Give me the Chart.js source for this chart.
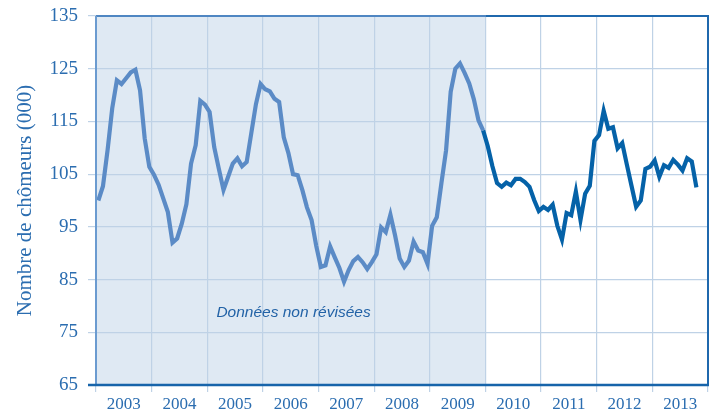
<!DOCTYPE html>
<html>
<head>
<meta charset="utf-8">
<script src="https://cdn.jsdelivr.net/npm/chart.js@4.4.1/dist/chart.umd.min.js"></script>
<style>
html,body{margin:0;padding:0;background:#ffffff;}
canvas{display:block;}
</style>
</head>
<body>
<canvas id="c" width="712" height="409"></canvas>
<script>
// ---- data (monthly, thousands of unemployed) ----
const startYear = 2003;
const endYear = 2014;
const revisedFromYear = 2010;
const xTickLabels = ['2003','2004','2005','2006','2007','2008','2009','2010','2011','2012','2013'];
const yTickValues = [65, 75, 85, 95, 105, 115, 125, 135];
const yTitle = 'Nombre de chômeurs (000)';
const noteText = 'Données non révisées';

const v2003 = [100.0, 102.7, 109.6, 117.5, 122.8, 122.1, 123.2, 124.3, 124.8, 120.9, 111.8, 106.4];
const v2004 = [104.9, 103.0, 100.4, 97.8, 92.0, 92.8, 95.6, 99.3, 107.0, 110.5, 118.9, 118.2];
const v2005 = [116.8, 110.1, 106.0, 102.0, 104.5, 107.0, 108.0, 106.5, 107.3, 112.8, 118.3, 122.1];
const v2006 = [121.1, 120.7, 119.3, 118.7, 112.0, 109.0, 105.0, 104.8, 102.0, 98.7, 96.3, 91.4];
const v2007 = [87.4, 87.7, 91.3, 89.2, 87.2, 84.6, 86.8, 88.5, 89.3, 88.3, 87.0, 88.3];
const v2008 = [89.8, 94.9, 94.0, 97.3, 93.4, 89.0, 87.4, 88.6, 92.2, 90.5, 90.2, 88.0];
const v2009 = [95.2, 96.8, 103.3, 109.5, 120.6, 125.0, 126.0, 124.2, 122.2, 119.2, 115.2, 113.3];
const v2010 = [110.3, 106.5, 103.3, 102.6, 103.4, 102.9, 104.1, 104.1, 103.5, 102.6, 100.1, 98.0];
const v2011 = [98.8, 98.2, 99.2, 95.2, 92.6, 97.6, 97.2, 101.7, 96.3, 101.3, 102.8, 111.3];
const v2012 = [112.4, 117.0, 113.6, 113.9, 109.9, 110.9, 106.8, 102.8, 98.8, 100.0, 106.0, 106.4];
const v2013 = [107.6, 104.5, 106.7, 106.2, 107.7, 106.8, 105.7, 108.0, 107.4, 102.5];

const monthly = [].concat(v2003, v2004, v2005, v2006, v2007, v2008, v2009, v2010, v2011, v2012, v2013);
const points = monthly.map((v, i) => ({ x: startYear + (i + 0.5) / 12, y: v }));
const splitIndex = (revisedFromYear - startYear) * 12 - 1; // last unrevised month
const unrevised = points.slice(0, splitIndex + 1);
const revised = points.slice(splitIndex);

const TEXT_BLUE = '#2b6db0';
const GRID = '#bfd2e6';

const framePlugin = {
  id: 'framePlugin',
  beforeDraw(chart) {
    const { ctx, chartArea: a, scales: { x } } = chart;
    const xr = x.getPixelForValue(revisedFromYear);
    ctx.save();
    ctx.fillStyle = '#dfe9f3';
    ctx.fillRect(a.left, a.top, xr - a.left, a.bottom - a.top);
    ctx.restore();
  },
  afterDatasetsDraw(chart) {
    const { ctx, chartArea: a, scales: { x, y } } = chart;
    const xr = x.getPixelForValue(revisedFromYear);
    ctx.save();
    ctx.lineWidth = 2;
    // top border
    ctx.strokeStyle = '#4f86c2';
    ctx.beginPath(); ctx.moveTo(a.left, a.top); ctx.lineTo(xr, a.top); ctx.stroke();
    ctx.strokeStyle = '#1f68ad';
    ctx.beginPath(); ctx.moveTo(xr, a.top); ctx.lineTo(a.right + 1, a.top); ctx.stroke();
    // right border
    ctx.beginPath(); ctx.moveTo(a.right, a.top); ctx.lineTo(a.right, a.bottom); ctx.stroke();
    // left border
    ctx.strokeStyle = '#6b9bd0';
    ctx.beginPath(); ctx.moveTo(a.left, a.top); ctx.lineTo(a.left, a.bottom); ctx.stroke();
    // bottom axis line
    ctx.strokeStyle = '#1764aa';
    ctx.lineWidth = 2.5;
    ctx.beginPath(); ctx.moveTo(a.left - 8, a.bottom); ctx.lineTo(a.right + 1, a.bottom); ctx.stroke();
    // note
    ctx.fillStyle = '#2262a6';
    ctx.font = 'italic 15.5px "Liberation Sans", Arial, sans-serif';
    ctx.textAlign = 'center';
    ctx.textBaseline = 'middle';
    ctx.fillText(noteText, x.getPixelForValue(2006.55), y.getPixelForValue(78.7));
    ctx.restore();
  }
};

new Chart(document.getElementById('c'), {
  type: 'line',
  data: {
    datasets: [
      { data: unrevised, borderColor: '#5b8bc6', borderWidth: 4.2, pointRadius: 0, tension: 0, fill: false },
      { data: revised, borderColor: '#0562a8', borderWidth: 4.2, pointRadius: 0, tension: 0, fill: false }
    ]
  },
  options: {
    responsive: false,
    animation: false,
    devicePixelRatio: 1,
    layout: { padding: { top: 16, right: 4, left: 0, bottom: 0 } },
    plugins: { legend: { display: false }, tooltip: { enabled: false } },
    scales: {
      x: {
        type: 'linear',
        min: startYear,
        max: endYear,
        afterBuildTicks(scale) {
          const t = [];
          for (let yr = startYear; yr <= endYear; yr++) {
            t.push({ value: yr });
            if (yr < endYear) t.push({ value: yr + 0.5 });
          }
          scale.ticks = t;
        },
        afterFit(scale) { scale.height = 24; scale.paddingLeft = 0; scale.paddingRight = 0; },
        grid: {
          color: (c) => (c.tick && Number.isInteger(c.tick.value)) ? GRID : 'rgba(0,0,0,0)',
          tickColor: (c) => (c.tick && Number.isInteger(c.tick.value)) ? GRID : 'rgba(0,0,0,0)',
          lineWidth: 1.2,
          tickLength: 7,
          drawTicks: true
        },
        border: { display: false },
        ticks: {
          autoSkip: false,
          maxRotation: 0,
          padding: 2,
          color: TEXT_BLUE,
          font: { family: '"Liberation Serif", "Times New Roman", serif', size: 17 },
          callback: (value) => Number.isInteger(value) ? '' : xTickLabels[Math.floor(value) - startYear]
        }
      },
      y: {
        min: yTickValues[0],
        max: yTickValues[yTickValues.length - 1],
        afterBuildTicks(scale) { scale.ticks = yTickValues.map(v => ({ value: v })); },
        afterFit(scale) { scale.width = 96; scale.paddingTop = 0; scale.paddingBottom = 0; },
        grid: { color: GRID, tickColor: GRID, lineWidth: 1.2, tickLength: 8 },
        border: { display: false },
        ticks: {
          padding: 10,
          color: TEXT_BLUE,
          font: { family: '"Liberation Serif", "Times New Roman", serif', size: 19 }
        },
        title: {
          display: true,
          text: yTitle,
          color: TEXT_BLUE,
          padding: { top: 13, bottom: 0 },
          font: { family: '"Liberation Serif", "Times New Roman", serif', size: 21 }
        }
      }
    }
  },
  plugins: [framePlugin]
});
</script>
</body>
</html>
